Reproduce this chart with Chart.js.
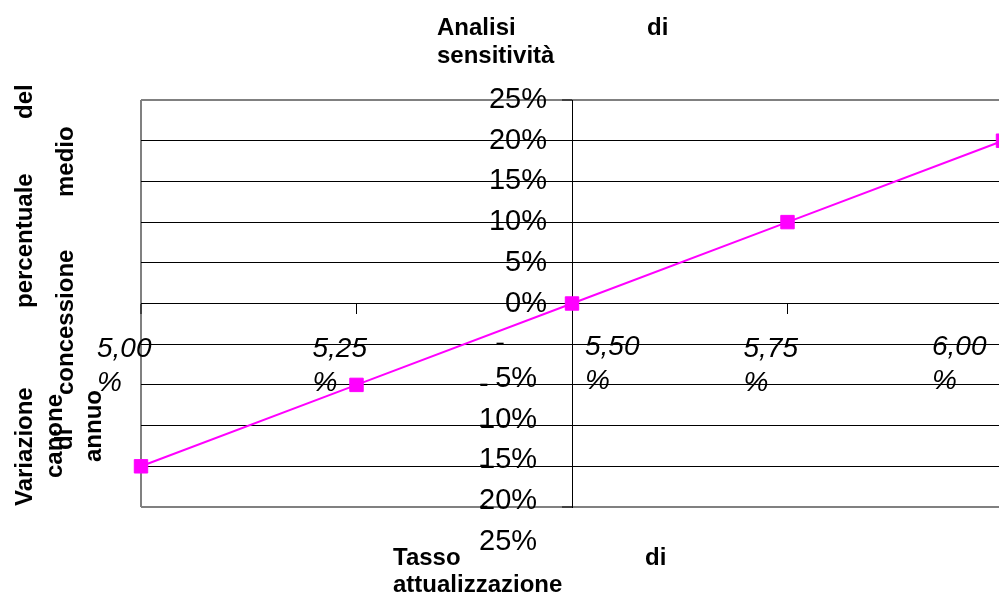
<!DOCTYPE html>
<html lang="it">
<head>
<meta charset="utf-8">
<title>Analisi di sensitività</title>
<script src="https://cdn.jsdelivr.net/npm/chart.js@4.4.1/dist/chart.umd.min.js"></script>
<style>
  html, body { margin: 0; padding: 0; background: #fff; overflow: hidden; }
  #wrap { position: relative; width: 999px; height: 593px; overflow: hidden; }
  /* the plot runs a little past the right edge, like the original sheet */
  #box { position: absolute; left: 0; top: 0; width: 1093px; height: 593px; }
  .w { position: absolute; font: bold 24px 'Liberation Sans', Arial, sans-serif; line-height: 24px; white-space: nowrap; color: #000; }
  .up { transform-origin: 0 0; transform: rotate(-90deg); }
</style>
</head>
<body>
<div id="wrap">
  <div id="box"><canvas id="chart"></canvas></div>
</div>
<script>
// Tasso di attualizzazione (categorie) e variazione del canone medio (%)
const tassi = ['5,00%', '5,25%', '5,50%', '5,75%', '6,00%'];
const variazioni = [-20, -10, 0, 10, 20];
const yMin = -25;
const yMax = 25;
const yStep = 5;

// title words, laid out justified like the spreadsheet did
const titleWords = [
    { text: 'Analisi', x: 437, y: 35 },
    { text: 'di', x: 647, y: 35 },
    { text: 'sensitività', x: 437, y: 63 },
    { text: 'Tasso', x: 393, y: 565 },
    { text: 'di', x: 645, y: 565 },
    { text: 'attualizzazione', x: 393, y: 592 }
];
// rotated axis title: x = baseline, y = where the word starts (bottom)
const sideWords = [
    { text: 'Variazione', x: 32, y: 506 },
    { text: 'percentuale', x: 32, y: 308 },
    { text: 'del', x: 32, y: 119 },
    { text: 'canone', x: 62, y: 478 },
    { text: 'di', x: 72, y: 450 },
    { text: 'concessione', x: 73, y: 395 },
    { text: 'medio', x: 73, y: 197 },
    { text: 'annuo', x: 101, y: 462 }
];

const wrap = document.getElementById('wrap');
const BASELINE = 20;

function addWord(w, rotated) {
    const el = document.createElement('div');
    el.className = rotated ? 'w up' : 'w';
    el.textContent = w.text;
    if (rotated) {
        el.style.left = (w.x - BASELINE) + 'px';
        el.style.top = w.y + 'px';
    } else {
        el.style.left = w.x + 'px';
        el.style.top = (w.y - BASELINE) + 'px';
    }
    wrap.appendChild(el);
}
titleWords.forEach(w => addWord(w, false));
sideWords.forEach(w => addWord(w, true));

Chart.defaults.font.family = "'Liberation Sans', Arial, sans-serif";
Chart.defaults.color = '#000';

const tickFont = { size: 29, lineHeight: 1.2 };
const catFont = { size: 28, style: 'italic', lineHeight: 1.2 };

/**
 * Category labels are split as "5,00" / "%" on two lines
 */
function catLabel(index) {
    const s = tassi[index];
    return [s.slice(0, -1), '%'];
}

/**
 * Extra category axis that only prints some of the labels,
 * each group with its own horizontal shift
 */
function catLabelAxis(show, shift) {
    return {
        type: 'category',
        axis: 'x',
        position: { y: 0 },
        offset: false,
        grid: { display: false },
        border: { display: false },
        ticks: {
            autoSkip: false,
            maxRotation: 0,
            align: 'start',
            labelOffset: shift,
            padding: 19,
            font: catFont,
            callback: (value, index) => show.includes(index) ? catLabel(index) : ''
        }
    };
}

function isEdge(value) {
    return value === yMin || value === yMax;
}

new Chart(document.getElementById('chart'), {
    type: 'line',
    data: {
        labels: tassi,
        datasets: [{
            data: variazioni,
            borderColor: '#ff00ff',
            backgroundColor: '#ff00ff',
            borderWidth: 2,
            tension: 0,
            fill: false,
            clip: false,
            pointStyle: 'rect',
            pointRadius: 9.5,
            pointBorderWidth: 1,
            pointBackgroundColor: '#ff00ff',
            pointBorderColor: '#ff00ff'
        }]
    },
    options: {
        responsive: true,
        maintainAspectRatio: false,
        animation: false,
        events: [],
        layout: {
            autoPadding: false,
            padding: { left: 141, top: 100, right: 90, bottom: 86 }
        },
        plugins: {
            legend: { display: false },
            tooltip: { enabled: false },
            title: { display: false }
        },
        scales: {
            x: {
                type: 'category',
                position: { y: 0 },
                offset: false,
                grid: {
                    color: c => c.index === 0 ? '#808080' : 'rgba(0,0,0,0)',
                    lineWidth: c => c.index === 0 ? 2 : 1,
                    tickColor: '#000',
                    tickWidth: 1,
                    tickLength: 10
                },
                border: { color: '#000', width: 1 },
                ticks: {
                    autoSkip: false,
                    maxRotation: 0,
                    align: 'start',
                    labelOffset: -44,
                    padding: 19,
                    font: catFont,
                    callback: (value, index) => [0, 1, 3].includes(index) ? catLabel(index) : ''
                }
            },
            x50: catLabelAxis([2], 13),
            x60: catLabelAxis([4], -71),
            y: {
                type: 'linear',
                min: yMin,
                max: yMax,
                position: { x: tassi[2] },
                grid: {
                    color: c => isEdge(c.tick.value) ? '#808080' : '#000',
                    lineWidth: c => isEdge(c.tick.value) ? 2 : 1,
                    tickColor: '#000',
                    tickWidth: 1,
                    tickLength: 10
                },
                border: { color: '#000', width: 1 },
                ticks: { stepSize: yStep, display: false }
            },
            // percent labels, placed just left of the vertical axis
            yPos: {
                type: 'linear',
                axis: 'y',
                min: yMin,
                max: yMax,
                position: { x: 1.884 },
                grid: { display: false },
                border: { display: false },
                ticks: {
                    stepSize: yStep,
                    autoSkip: false,
                    font: tickFont,
                    callback: v => v >= 0 ? v + '%' : ''
                }
            },
            // negative values wrap: the minus sign sits on the tick, the number below
            yNeg: {
                type: 'linear',
                axis: 'y',
                min: yMin,
                max: yMax,
                position: { x: 1.838 },
                grid: { display: false },
                border: { display: false },
                ticks: {
                    stepSize: yStep,
                    autoSkip: false,
                    font: tickFont,
                    callback: v => {
                        if (v >= 0) return '';
                        const num = String(-v);
                        return ['', '-' + ' '.repeat(2 * num.length + 2), num + '%'];
                    }
                }
            }
        }
    }
});
</script>
</body>
</html>
